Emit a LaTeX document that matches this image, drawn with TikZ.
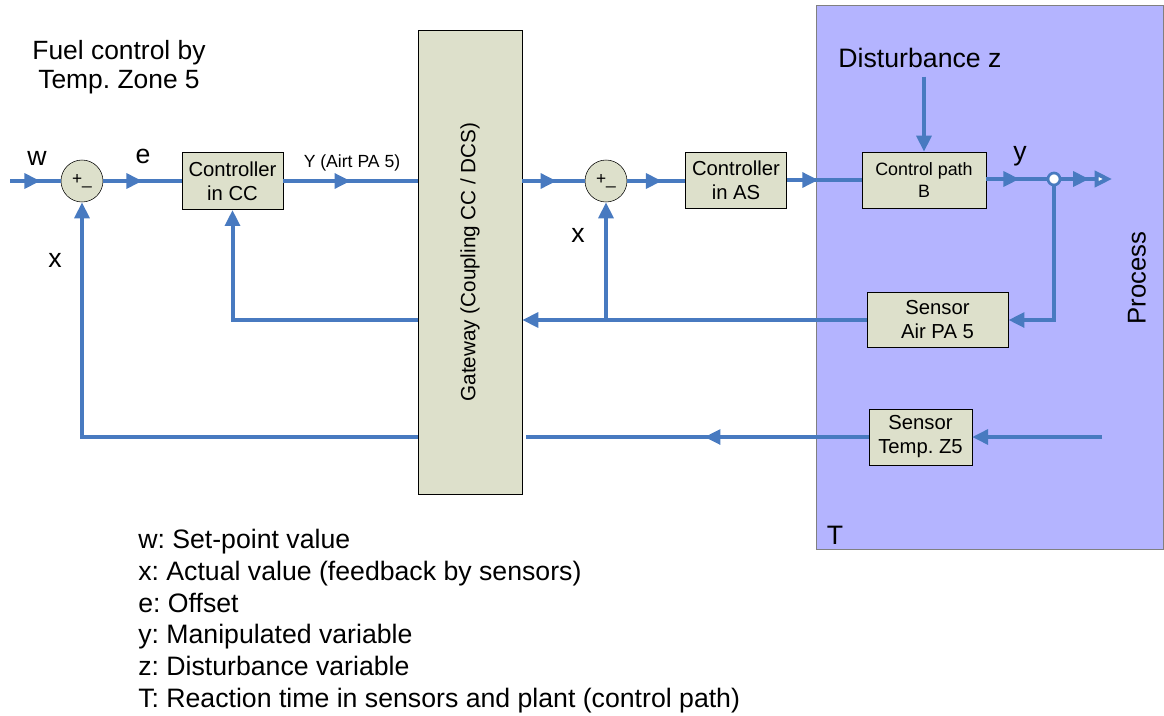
\documentclass[tikz,border=0pt]{standalone}
\usepackage{fontspec}
\setmainfont{Liberation Sans}
\usetikzlibrary{positioning, arrows.meta, decorations.markings}

\definecolor{flowblue}{RGB}{72,122,192}
\definecolor{boxfill}{RGB}{221,224,203}
\definecolor{processfill}{RGB}{180,180,255}

\newcommand{\fsz}[2]{\fontsize{#1}{#2}\selectfont}
\frenchspacing

\begin{document}
\begin{tikzpicture}[
    x=0.75pt, y=-0.75pt,
    block/.style={draw, fill=boxfill, align=center, inner sep=0pt, font=\fsz{15.2pt}{18pt}},
    summer/.style={circle, draw, fill=boxfill, minimum size=31.5pt, inner sep=0pt, font=\fsz{13pt}{14pt}},
    flow/.style={color=flowblue, line width=3pt},
    tip/.style={-{Triangle[length=12pt, width=11pt]}},
    midtip/.style={postaction={decorate}, decoration={markings,
        mark=at position #1 with {\arrow{Triangle[length=12pt, width=11pt]}}}},
    lbl/.style={font=\fsz{20pt}{24pt}}
]
\useasboundingbox (0,0) rectangle (1164,715);

% process area
\draw[gray, fill=processfill] (816,5) rectangle (1163,549);

% blocks
\node[summer] (sum1) at (82,181) {+\_};
\node[block, minimum width=76pt, minimum height=43pt] (ccc) at (232.5,181) {Controller\\in CC};
\node[block, minimum width=78pt, minimum height=348pt] (gw) at (470,262) {};
\node[rotate=90, font=\fsz{15.5pt}{18pt}] at (gw) {Gateway (Coupling CC / DCS)};
\node[summer] (sum2) at (606,181) {+\_};
\node[block, minimum width=76pt, minimum height=42pt] (cas) at (736,180) {Controller\\in AS};
\node[block, minimum width=93pt, minimum height=42pt, font=\fsz{13.4pt}{16pt}] (cpath) at (924,180) {Control path\\B};
\node[circle, draw=flowblue, fill=white, line width=2pt, minimum size=9pt, inner sep=0pt] (jn) at (1054,179) {};
\node[block, minimum width=106pt, minimum height=41pt] (sair) at (937.5,320) {Sensor\\Air PA 5};
\node[block, minimum width=77pt, minimum height=42pt] (stemp) at (920.5,437) {Sensor\\Temp. Z5};

% texts
\node[lbl, align=center, font=\fsz{19.8pt}{22pt}] (title) at (119,67) {Fuel control by\\Temp. Zone 5};
\node[lbl] (dist) at (920,58) {Disturbance z};
\node[lbl] (lw) at (37,158) {w};
\node[lbl] (le) at (143,156) {e};
\node[font=\fsz{13.2pt}{15pt}] (ly) at (352,163) {Y (Airt PA 5)};
\node[lbl] (lx2) at (578,235) {x};
\node[lbl] (lx1) at (55,260) {x};
\node[lbl] (lyy) at (1020,156) {y};
\node[lbl] (lt) at (835,535) {T};
\node[rotate=90, font=\fsz{19.3pt}{22pt}] (proc) at (1137,278) {Process};

% forward path
\coordinate (win) at (10,181);
\coordinate (wout) at (1112,179);
\draw[flow, midtip=0.6] (win) -- (sum1.west);
\draw[flow, midtip=0.5] (sum1.east) -- (ccc.west);
\draw[flow, midtip=0.5] (ccc.east) -- (ccc.east -| gw.west);
\draw[flow, midtip=0.55] (gw.east |- sum2) -- (sum2.west);
\draw[flow, midtip=0.6] (sum2.east) -- (sum2.east -| cas.west);
\draw[flow, midtip=0.42] (cas.east) -- (cpath.west);
\draw[flow, midtip=0.55] (cpath.east |- jn) -- (jn.west);
\draw[flow, midtip=0.55, -{Triangle[open, fill=white, length=13pt, width=12pt]}] (jn.east) -- (wout);
\draw[flow, tip] (dist.south -| cpath) ++(0,4) -- (cpath.north);

% feedback air
\coordinate (br) at (sair.west -| sum2);
\draw[flow, tip] (jn.south) |- (sair.east);
\draw[flow, tip] (sair.west) -- (sair.west -| gw.east);
\draw[flow, tip] (br) -- (sum2.south);
\draw[flow, tip] (gw.west |- sair) -| (ccc.south);

% feedback temperature
\coordinate (tin) at (1102,437);
\draw[flow, tip] (tin) -- (stemp.east);
\draw[flow, midtip=0.48] (stemp.west) -- ([xshift=3pt]stemp.west -| gw.east);
\draw[flow, tip] (gw.west |- stemp) -| (sum1.south);

% legend
\foreach \txt [count=\i] in {{w: Set-point value}, {x: Actual value (feedback by sensors)},
    {e: Offset}, {y: Manipulated variable}, {z: Disturbance variable},
    {T: Reaction time in sensors and plant (control path)}}
  \node[lbl, anchor=base west, inner sep=0pt] (leg\i) at (138,516.7+31.8*\i) {\txt};
\end{tikzpicture}
\end{document}
